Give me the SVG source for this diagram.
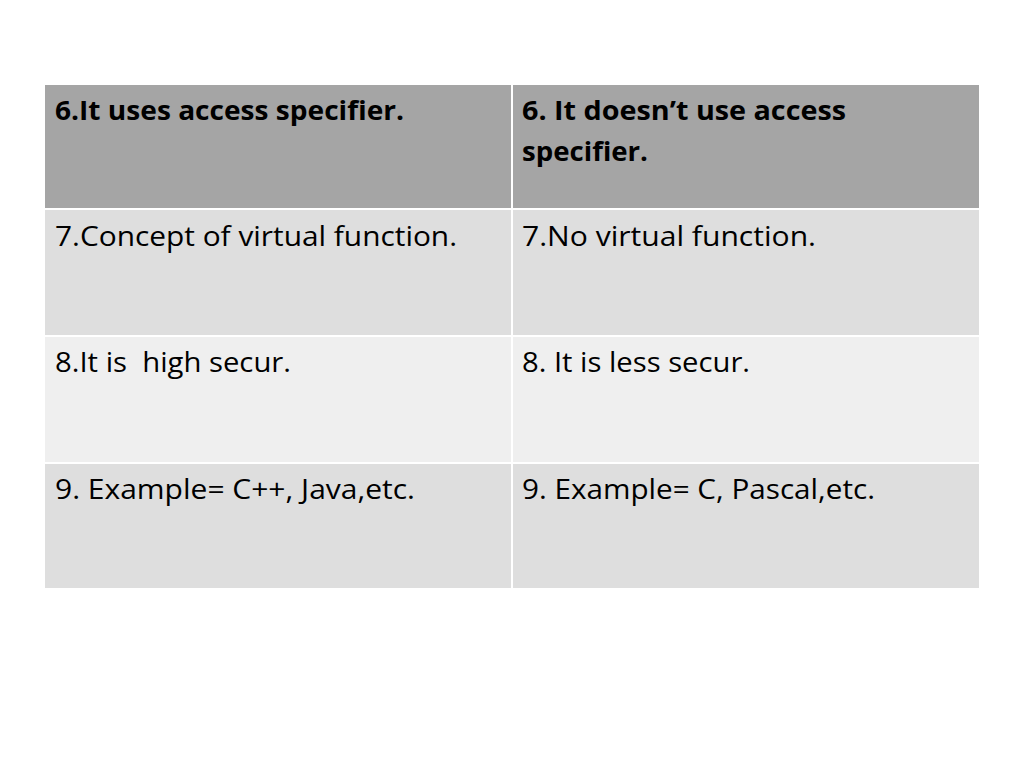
<svg xmlns="http://www.w3.org/2000/svg" width="1024" height="768" viewBox="0 0 1024 768">
<style>
.cell{stroke:#ffffff;stroke-width:2}
.h{fill:#a5a5a5}
.d{fill:#dedede}
.l{fill:#efefef}
text{font-family:"Open Sans","Noto Sans","Liberation Sans",sans-serif;font-size:27px;fill:#000;white-space:pre}
.b{font-weight:bold}
</style>
<rect width="1024" height="768" fill="#ffffff"/>
<g id="table">
<g id="r6a"><rect class="cell h" x="44" y="84" width="468" height="125"/><text class="b" x="55" y="120" textLength="349" lengthAdjust="spacingAndGlyphs">6.It uses access specifier.</text></g>
<g id="r6b"><rect class="cell h" x="512" y="84" width="468" height="125"/><text class="b" x="522" y="120" textLength="324" lengthAdjust="spacingAndGlyphs">6. It doesn’t use access</text><text class="b" x="522" y="161" textLength="126" lengthAdjust="spacingAndGlyphs">specifier.</text></g>
<g id="r7a"><rect class="cell d" x="44" y="209" width="468" height="127"/><text x="55" y="246" textLength="402" lengthAdjust="spacingAndGlyphs">7.Concept of virtual function.</text></g>
<g id="r7b"><rect class="cell d" x="512" y="209" width="468" height="127"/><text x="522" y="246" textLength="294" lengthAdjust="spacingAndGlyphs">7.No virtual function.</text></g>
<g id="r8a"><rect class="cell l" x="44" y="336" width="468" height="127"/><text x="55" y="372" textLength="236" lengthAdjust="spacingAndGlyphs" xml:space="preserve">8.It is  high secur.</text></g>
<g id="r8b"><rect class="cell l" x="512" y="336" width="468" height="127"/><text x="522" y="372" textLength="228" lengthAdjust="spacingAndGlyphs">8. It is less secur.</text></g>
<g id="r9a"><rect class="cell d" x="44" y="463" width="468" height="126"/><text x="55" y="499" textLength="360" lengthAdjust="spacingAndGlyphs">9. Example= C++, Java,etc.</text></g>
<g id="r9b"><rect class="cell d" x="512" y="463" width="468" height="126"/><text x="522" y="499" textLength="353" lengthAdjust="spacingAndGlyphs">9. Example= C, Pascal,etc.</text></g>
</g>
</svg>
